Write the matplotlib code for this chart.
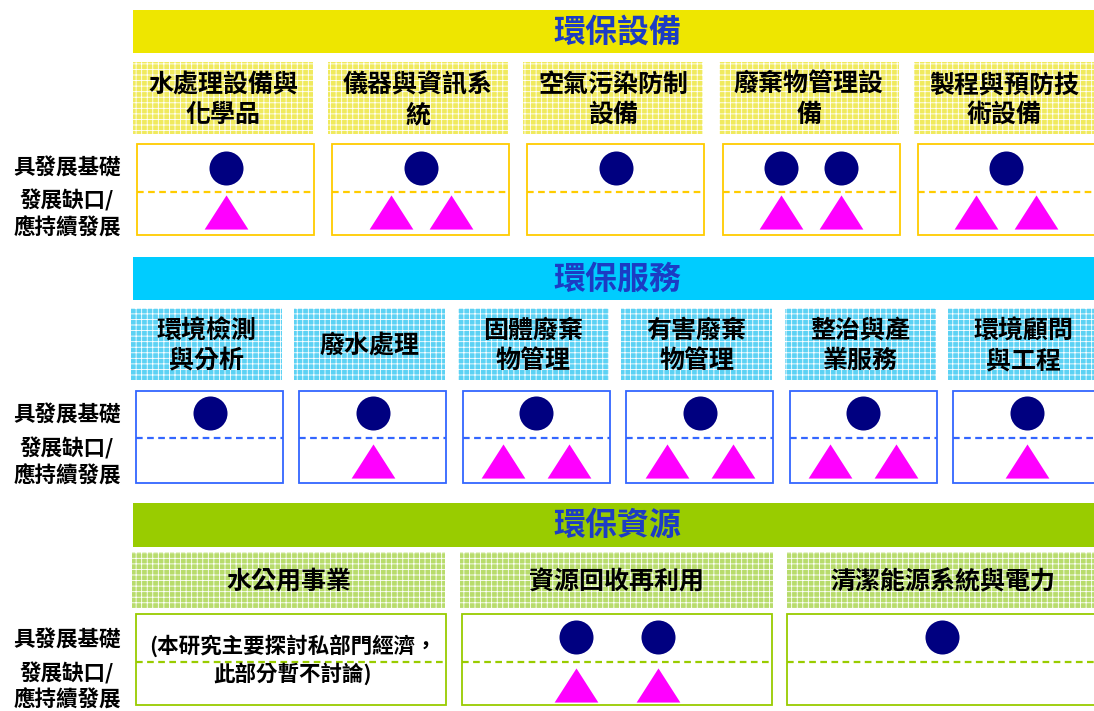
import matplotlib
matplotlib.use("Agg")
import matplotlib.pyplot as plt
from matplotlib.patches import Rectangle

plt.rcParams['font.family'] = ['Noto Sans CJK TC', 'DejaVu Sans']
plt.rcParams['hatch.linewidth'] = 0.6

# ---------------- data ----------------
section_titles = ["環保設備", "環保服務", "環保資源"]
equipment_cats = ["水處理設備與\n化學品", "儀器與資訊系\n統", "空氣污染防制\n設備", "廢棄物管理設\n備", "製程與預防技\n術設備"]
equipment_base = [1, 1, 1, 2, 1]      # 具發展基礎 (circles)
equipment_gap = [1, 2, 0, 2, 2]       # 發展缺口/應持續發展 (triangles)
service_cats = ["環境檢測\n與分析", "廢水處理", "固體廢棄\n物管理", "有害廢棄\n物管理", "整治與產\n業服務", "環境顧問\n與工程"]
service_base = [1, 1, 1, 1, 1, 1]
service_gap = [0, 1, 2, 2, 2, 1]
resource_cats = ["水公用事業", "資源回收再利用", "清潔能源系統與電力"]
resource_base = [0, 2, 1]
resource_gap = [0, 2, 0]
resource_notes = ["(本研究主要探討私部門經濟，\n此部分暫不討論)", "", ""]
row_labels = ["具發展基礎", "發展缺口/", "應持續發展"]

# ---------------- style / layout ----------------
W, H = 1094, 711
fig = plt.figure(figsize=(W / 100, H / 100), dpi=100)
ax = fig.add_axes([0, 0, 1, 1])
ax.set_xlim(0, W)
ax.set_ylim(H, 0)
ax.axis('off')

sections = [
    dict(title=section_titles[0], cats=equipment_cats, base=equipment_base, gap=equipment_gap, notes=None,
         head=(133, 10, 43), head_col='#EEE600', sub_col='#F0EA5E', edge='#FFCC00',
         sub_y=(62, 72), sub_x0=133, sub_w=180, sub_step=195.2,
         box_y=(144, 91), box_x0=137, box_w=177, box_step=195.2, dash_y=192,
         spread=60, circ_y=168, tri_y=212, lab_y=(168, 200, 228)),
    dict(title=section_titles[1], cats=service_cats, base=service_base, gap=service_gap, notes=None,
         head=(133, 257, 43), head_col='#00CCFF', sub_col='#5CD2F4', edge='#3366FF',
         sub_y=(308, 72), sub_x0=131, sub_w=151, sub_step=163.4,
         box_y=(391, 92), box_x0=136, box_w=147, box_step=163.4, dash_y=438,
         spread=66, circ_y=413, tri_y=461, lab_y=(415, 448, 476)),
    dict(title=section_titles[2], cats=resource_cats, base=resource_base, gap=resource_gap, notes=resource_notes,
         head=(133, 503, 44), head_col='#99CC00', sub_col='#B8DC6C', edge='#99CC00',
         sub_y=(552, 56), sub_x0=132, sub_w=313, sub_step=327.5,
         box_y=(614, 91), box_x0=136, box_w=310, box_step=325.5, dash_y=662,
         spread=82, circ_y=637, tri_y=685, lab_y=(640, 673, 700)),
]

tri_marker = [(0, 0.78), (-1, -0.78), (1, -0.78)]

for s in sections:
    hx, hy, hh = s['head']
    ax.add_patch(Rectangle((hx, hy), W - hx, hh, facecolor=s['head_col'], edgecolor='none'))
    ax.text(617, hy + hh / 2 + 1, s['title'], ha='center', va='center', fontsize=23,
            fontweight='bold', color='#1C3CC4')
    sy, sh = s['sub_y']
    by, bh = s['box_y']
    for i, cat in enumerate(s['cats']):
        sx = s['sub_x0'] + i * s['sub_step']
        sw = min(s['sub_w'], W - sx)
        ax.add_patch(Rectangle((sx, sy), sw, sh, facecolor=s['sub_col'], edgecolor='white',
                               linewidth=0, hatch='+++'))
        ax.text(sx + s['sub_w'] / 2, sy + sh / 2 + 2, cat, ha='center', va='center', fontsize=18,
                fontweight='bold', color='black', linespacing=1.3)
        bx = s['box_x0'] + i * s['box_step']
        bw = min(s['box_w'], W - bx + 2)
        ax.add_patch(Rectangle((bx, by), bw, bh, facecolor='white', edgecolor=s['edge'], linewidth=1.3))
        ax.plot([bx, bx + bw], [s['dash_y'], s['dash_y']], color=s['edge'], linewidth=1.6,
                linestyle=(0, (3, 2)))
        cx = bx + s['box_w'] / 2
        nb = s['base'][i]
        ng = s['gap'][i]
        if nb:
            xs = [cx + (k - (nb - 1) / 2) * s['spread'] for k in range(nb)]
            ax.plot(xs, [s['circ_y']] * nb, linestyle='none', marker='o', markersize=24.5,
                    color='#000080', markeredgewidth=0)
        if ng:
            xs = [cx + (k - (ng - 1) / 2) * s['spread'] for k in range(ng)]
            ax.plot(xs, [s['tri_y']] * ng, linestyle='none', marker=tri_marker, markersize=31.5,
                    color='#FF00FF', markeredgewidth=0)
        if s['notes'] and s['notes'][i]:
            ax.text(cx + 2, by + bh / 2, s['notes'][i], ha='center', va='center', fontsize=15.5,
                    fontweight='bold', color='black', linespacing=1.3)
    for lab, ly in zip(row_labels, s['lab_y']):
        ax.text(67, ly, lab, ha='center', va='center', fontsize=15.5, fontweight='bold', color='black')

fig.savefig('out.png', dpi=100)
